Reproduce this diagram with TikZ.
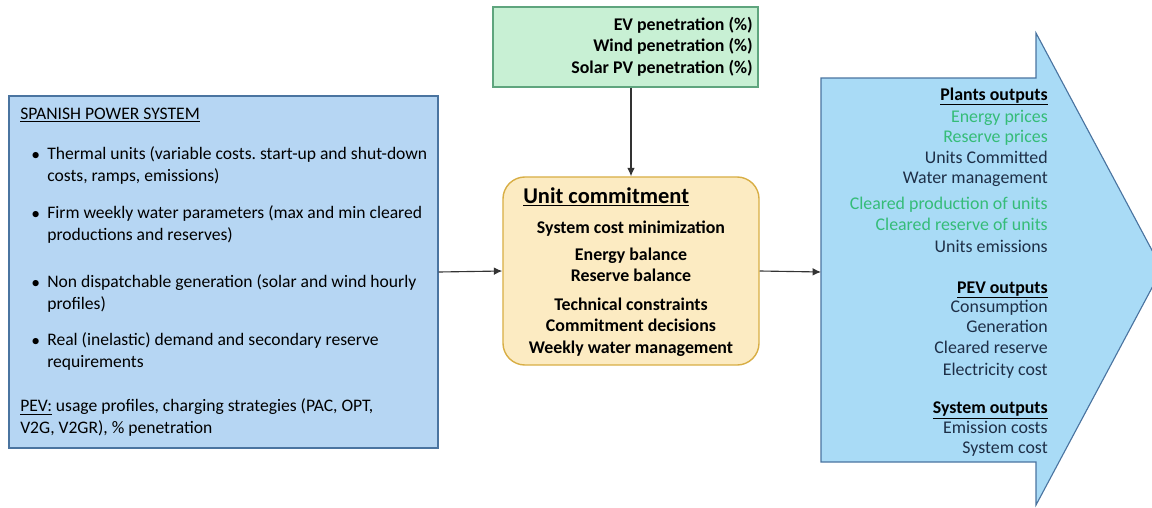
\documentclass[tikz,border=0pt]{standalone}
\usepackage{fontspec}
\setmainfont{Carlito}
\usetikzlibrary{arrows.meta}
\frenchspacing

\definecolor{fondoblu}{HTML}{B6D6F3}
\definecolor{bordoblu}{HTML}{4A74A0}
\definecolor{fondofreccia}{HTML}{A9DBF6}
\definecolor{fondoverde}{HTML}{C8F0D4}
\definecolor{bordoverde}{HTML}{5FA57E}
\definecolor{fondogiallo}{HTML}{FCEBC2}
\definecolor{bordogiallo}{HTML}{D8AE45}
\definecolor{testoverde}{HTML}{35BC78}
\definecolor{testoscuro}{HTML}{1E2F47}

\begin{document}
\begin{tikzpicture}[x=0.025cm, y=-0.025cm,
    riquadro/.style={draw=bordoblu, line width=.8pt, inner sep=0pt},
    freccia/.style={-{Latex[length=6pt,width=5.5pt]}, line width=.8pt, black!80},
    riga/.style={font=\fontsize{12.5}{15}\selectfont, inner sep=0pt, anchor=base west, align=left},
    uscita/.style={font=\fontsize{12.7}{15}\selectfont, inner sep=0pt, anchor=base east, text=testoscuro},
    titolo/.style={uscita, font=\fontsize{12.7}{15}\selectfont\bfseries, text=black}]

  \clip (0,0) rectangle (1152,507);

  % freccia delle uscite
  \draw[draw=bordoblu, line width=.8pt, fill=fondofreccia]
    (821,78) -- (1036,78) -- (1036,33) -- (1162,269) -- (1036,505) -- (1036,462)
    -- (821,462) -- cycle;
  \coordinate (uscite) at (821,272);

  % sistema elettrico
  \node[riquadro, fill=fondoblu, minimum width=10.725cm, minimum height=8.8cm]
    (sistema) at (223.5,272) {};
  \node[riga] (tsist) at (20,119) {\underline{SPANISH POWER SYSTEM}};
  \foreach \y in {160,219,288,346}
    { \node[riga] at (31,\y) {\textbullet}; }
  \node[riga] (term) at (47,181) {Thermal units (variable costs. start-up and shut-down\\costs, ramps, emissions)};
  \node[riga] (acqua) at (47,240) {Firm weekly water parameters (max and min cleared\\productions and reserves)};
  \node[riga] (rinn) at (47,309) {Non dispatchable generation (solar and wind hourly\\profiles)};
  \node[riga] (dom) at (47,367) {Real (inelastic) demand and secondary reserve\\requirements};
  \node[riga] (pev) at (20,433) {\underline{PEV:} usage profiles, charging strategies (PAC, OPT,\\V2G, V2GR), \% penetration};

  % penetrazioni
  \node[draw=bordoverde, line width=.8pt, fill=fondoverde, inner sep=0pt,
    minimum width=6.625cm, minimum height=2cm] (pen) at (625.5,47) {};
  \node[titolo, anchor=base east] at (753,30) {EV penetration (\%)};
  \node[titolo, anchor=base east] at (753,51) {Wind penetration (\%)};
  \node[titolo, anchor=base east] at (753,73) {Solar PV penetration (\%)};

  % unit commitment
  \node[draw=bordogiallo, line width=1pt, fill=fondogiallo, rounded corners=0.55cm,
    inner sep=0pt, minimum width=6.4cm, minimum height=4.7cm] (uc) at (631,271) {};
  \node[riga, font=\fontsize{16}{18}\selectfont\bfseries] at (523,203) {\underline{Unit commitment}};
  \begin{scope}[every node/.style={font=\fontsize{12.7}{15}\selectfont\bfseries, inner sep=0pt, anchor=base}]
    \node at (631,233) {System cost minimization};
    \node at (631,260) {Energy balance};
    \node at (631,281) {Reserve balance};
    \node at (631,310) {Technical constraints};
    \node at (631,331) {Commitment decisions};
    \node at (631,353) {Weekly water management};
  \end{scope}

  % uscite
  \node[titolo] at (1048,100) {\underline{Plants outputs}};
  \node[uscita, text=testoverde] at (1048,122) {Energy prices};
  \node[uscita, text=testoverde] at (1048,142) {Reserve prices};
  \node[uscita] at (1048,163) {Units Committed};
  \node[uscita] at (1048,183) {Water management};
  \node[uscita, text=testoverde] at (1048,209) {Cleared production of units};
  \node[uscita, text=testoverde] at (1048,230) {Cleared reserve of units};
  \node[uscita] at (1048,252) {Units emissions};
  \node[titolo] at (1048,293) {\underline{PEV outputs}};
  \node[uscita] at (1048,312) {Consumption};
  \node[uscita] at (1048,332) {Generation};
  \node[uscita] at (1048,353) {Cleared reserve};
  \node[uscita] at (1048,375) {Electricity cost};
  \node[titolo] at (1048,413) {\underline{System outputs}};
  \node[uscita] at (1048,433) {Emission costs};
  \node[uscita] at (1048,453) {System cost};

  \draw[freccia] (pen.south -| uc.north) -- (uc.north);
  \draw[freccia] (sistema.east) -- (uc.west);
  \draw[freccia] (uc.east) -- (uscite);
\end{tikzpicture}
\end{document}
